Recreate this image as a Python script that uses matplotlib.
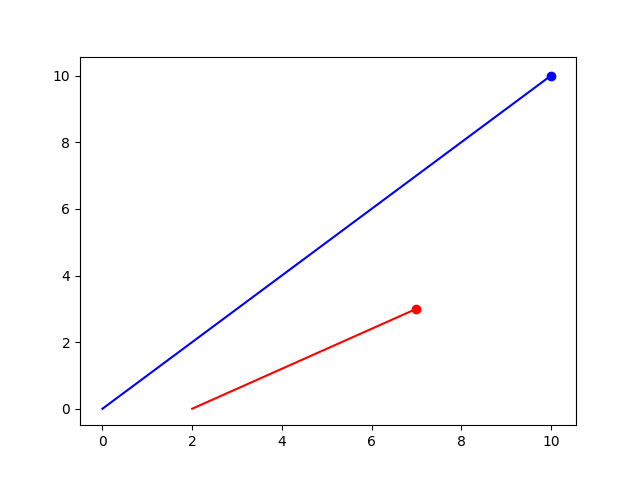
import matplotlib

matplotlib.use("Agg")
import matplotlib.pyplot as plt

# Two line segments, each with a dot at its end point
blue_x = [0, 10]
blue_y = [0, 10]
red_x = [2, 7]
red_y = [0, 3]

fig, ax = plt.subplots(figsize=(6.4, 4.78), dpi=100)

ax.plot(blue_x, blue_y, color="blue")
ax.scatter(blue_x[-1], blue_y[-1], color="blue")
ax.plot(red_x, red_y, color="red")
ax.scatter(red_x[-1], red_y[-1], color="red")

# the reference axes run a little past 10 on the top/right side
ax.set_xlim(-0.5, 10.56)
ax.set_ylim(-0.5, 10.55)

plt.savefig("out.png", dpi=100)
